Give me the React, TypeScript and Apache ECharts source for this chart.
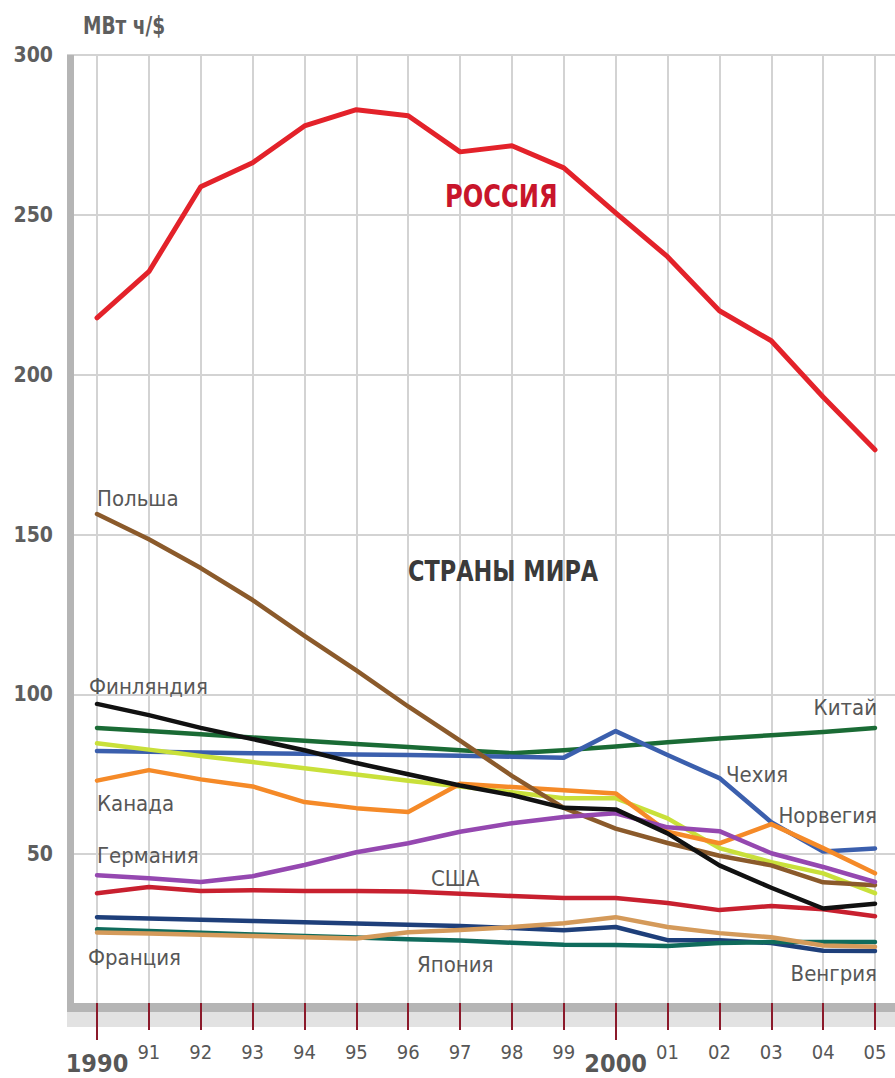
import React, { useEffect, useRef } from "react";
import * as echarts from "echarts";

const years = ["1990", "91", "92", "93", "94", "95", "96", "97", "98", "99", "2000", "01", "02", "03", "04", "05"];
const yTicks = [0, 50, 100, 150, 200, 250, 300];

const russia = [217.8, 232.2, 258.8, 266.3, 277.8, 282.9, 281, 269.7, 271.6, 264.7, 250.6, 236.9, 220, 210.6, 193, 176.5];
const poland = [156.4, 148.5, 139.5, 129.5, 118.3, 107.5, 96.2, 85.5, 74.5, 64.5, 58, 53.5, 49.5, 46.5, 41.2, 40.3];
const finland = [97, 93.5, 89.5, 86, 82.5, 78.5, 75, 71.5, 68.5, 64.5, 64, 56.5, 46.5, 39.5, 33, 34.5];
const china = [89.5, 88.5, 87.5, 86.5, 85.5, 84.5, 83.5, 82.5, 81.6, 82.5, 83.7, 85, 86.2, 87.2, 88.2, 89.5];
const czech = [82.3, 82, 81.8, 81.6, 81.4, 81.2, 81, 80.8, 80.5, 80.2, 88.5, 81, 73.8, 60, 50.8, 51.8];
const norway = [84.7, 82.7, 80.7, 78.8, 76.9, 74.9, 73, 71.2, 69.4, 67.5, 67.5, 61.2, 51.9, 47.5, 44, 37.8];
const canada = [73, 76.3, 73.4, 71.2, 66.3, 64.4, 63.2, 72, 71, 70, 69, 57, 53.4, 59.4, 51.9, 44];
const germany = [43.4, 42.5, 41.3, 43.1, 46.6, 50.6, 53.4, 57, 59.7, 61.6, 62.8, 58.4, 57.2, 50.3, 46, 41.3];
const usa = [37.8, 39.7, 38.5, 38.7, 38.5, 38.5, 38.3, 37.6, 36.9, 36.3, 36.3, 34.7, 32.5, 33.8, 32.8, 30.6];
const hungary = [30.3, 29.9, 29.5, 29.1, 28.7, 28.3, 27.9, 27.5, 26.9, 26.2, 27.2, 23.1, 23.1, 22.2, 19.8, 19.7];
const japan = [26.5, 26, 25.4, 24.9, 24.4, 23.9, 23.4, 23, 22.3, 21.7, 21.6, 21.3, 22.2, 22.5, 22.5, 22.5];
const france = [25.5, 25.2, 24.8, 24.4, 24, 23.6, 25.6, 26.3, 27.2, 28.4, 30.3, 27.2, 25.3, 24, 21.4, 21];

const FONT = "'DejaVu Sans Condensed', 'DejaVu Sans', sans-serif";
const GRID_COLOR = "#d3d3d3";
const TEXT_COLOR = "#575757";

type S = { name: string; data: number[]; color: string; width: number };
const seriesDefs: S[] = [
  { name: "Китай", data: china, color: "#1a6b35", width: 4.5 },
  { name: "Чехия", data: czech, color: "#3b5fad", width: 4.5 },
  { name: "Норвегия", data: norway, color: "#c9e03a", width: 4.5 },
  { name: "Канада", data: canada, color: "#f58a28", width: 4.5 },
  { name: "Польша", data: poland, color: "#8b5a2b", width: 4.5 },
  { name: "Германия", data: germany, color: "#9548b0", width: 4.5 },
  { name: "США", data: usa, color: "#c8202f", width: 4.5 },
  { name: "Венгрия", data: hungary, color: "#1e3f7a", width: 4.5 },
  { name: "Япония", data: japan, color: "#0f6b5c", width: 4.5 },
  { name: "Франция", data: france, color: "#d49a5a", width: 4.5 },
  { name: "Финляндия", data: finland, color: "#111111", width: 4.5 },
  { name: "Россия", data: russia, color: "#e3222a", width: 5 },
];

function label(text: string, x: number, y: number, align: string, opts: any = {}) {
  return {
    type: "text",
    x,
    y,
    z: 20,
    scaleX: opts.scaleX || 1,
    style: {
      text,
      fill: opts.fill || TEXT_COLOR,
      fontSize: opts.size || 22,
      fontWeight: opts.weight || "normal",
      fontFamily: FONT,
      textAlign: align,
      textVerticalAlign: "middle",
    },
  };
}

export default function App() {
  const ref = useRef<HTMLDivElement>(null);
  useEffect(() => {
    if (!ref.current) return;
    const chart = echarts.init(ref.current, null, { renderer: "svg" });
    const option: any = {
      animation: false,
      backgroundColor: "#ffffff",
      grid: [
        { left: 67, right: 0, top: 55, bottom: 64 },
        { left: 97, right: 20, top: 55, bottom: 64 },
        { left: 97, right: 20, top: 55, bottom: 75 },
      ],
      xAxis: [
        { gridIndex: 0, type: "value", min: 0, max: 1, show: false },
        {
          gridIndex: 1,
          type: "category",
          data: years,
          boundaryGap: false,
          axisLine: { show: false },
          axisTick: { show: false },
          axisLabel: { show: false },
          splitLine: { show: true, interval: 0, lineStyle: { color: GRID_COLOR, width: 2 } },
        },
        {
          gridIndex: 2,
          type: "category",
          data: years,
          boundaryGap: false,
          position: "bottom",
          z: 10,
          axisLine: { show: false },
          axisTick: { show: true, interval: 0, length: 27, lineStyle: { color: "#8b1a2b", width: 2 } },
          axisLabel: {
            interval: 0,
            margin: 39,
            formatter: (v: string) => (v.length === 4 ? "{b|" + v + "}" : "{s|" + v + "}"),
            rich: {
              s: { fontSize: 20, fontFamily: FONT, color: TEXT_COLOR },
              b: { fontSize: 25, fontWeight: "bold", fontFamily: FONT, color: TEXT_COLOR, padding: [9, 0, 0, 0] },
            },
          },
          splitLine: { show: false },
        },
        {
          gridIndex: 2,
          type: "category",
          data: years,
          boundaryGap: false,
          position: "bottom",
          z: 10,
          axisLine: { show: false },
          axisTick: {
            show: true,
            interval: (i: number) => i === 0 || i === 10,
            length: 37,
            lineStyle: { color: "#8b1a2b", width: 2 },
          },
          axisLabel: { show: false },
          splitLine: { show: false },
        },
      ],
      yAxis: [
        {
          gridIndex: 0,
          type: "value",
          min: yTicks[0],
          max: yTicks[yTicks.length - 1],
          interval: 50,
          axisLine: { show: false },
          axisTick: { show: false },
          axisLabel: {
            margin: 14,
            formatter: (v: number) => (v === 0 ? "" : String(v)),
            fontSize: 21,
            fontWeight: "bold",
            fontFamily: FONT,
            color: "#5e5e5e",
          },
          splitLine: { show: true, lineStyle: { color: GRID_COLOR, width: 2 } },
        },
        { gridIndex: 1, type: "value", min: 0, max: 300, show: false, splitLine: { show: false } },
        { gridIndex: 2, type: "value", min: 0, max: 1, show: false, splitLine: { show: false } },
      ],
      series: seriesDefs.map((s) => ({
        name: s.name,
        type: "line",
        xAxisIndex: 1,
        yAxisIndex: 1,
        data: s.data,
        symbol: "none",
        silent: true,
        z: 3,
        lineStyle: { color: s.color, width: s.width, cap: "round", join: "round" },
      })),
      graphic: [
        { type: "rect", z: 5, shape: { x: 67, y: 55, width: 7, height: 957 }, style: { fill: "#b5b5b5" } },
        { type: "rect", z: 5, shape: { x: 67, y: 1003, width: 828, height: 9 }, style: { fill: "#b5b5b5" } },
        { type: "rect", z: 5, shape: { x: 67, y: 1012, width: 828, height: 15 }, style: { fill: "#e2e2e2" } },
        label("МВт ч/$", 83, 25, "left", { size: 24, weight: "bold", scaleX: 0.86, fill: "#5e5e5e" }),
        label("Польша", 97, 498, "left"),
        label("Финляндия", 89, 686, "left"),
        label("Канада", 97, 803, "left"),
        label("Германия", 97, 855, "left"),
        label("Франция", 88, 957, "left"),
        label("США", 431, 878, "left"),
        label("Япония", 417, 964, "left"),
        label("Китай", 877, 707, "right"),
        label("Чехия", 726, 774, "left"),
        label("Норвегия", 877, 815, "right"),
        label("Венгрия", 877, 973, "right"),
        label("РОССИЯ", 445, 196, "left", { size: 32, weight: "bold", fill: "#c8152b", scaleX: 0.84 }),
        label("СТРАНЫ МИРА", 408, 571, "left", { size: 29, weight: "bold", fill: "#3a3a3a", scaleX: 0.86 }),
      ],
    };
    chart.setOption(option);
    return () => chart.dispose();
  }, []);
  return (
    <div
      ref={ref}
      style={{ position: "absolute", left: 0, top: 0, width: 895, height: 1078, background: "#fff" }}
    />
  );
}
